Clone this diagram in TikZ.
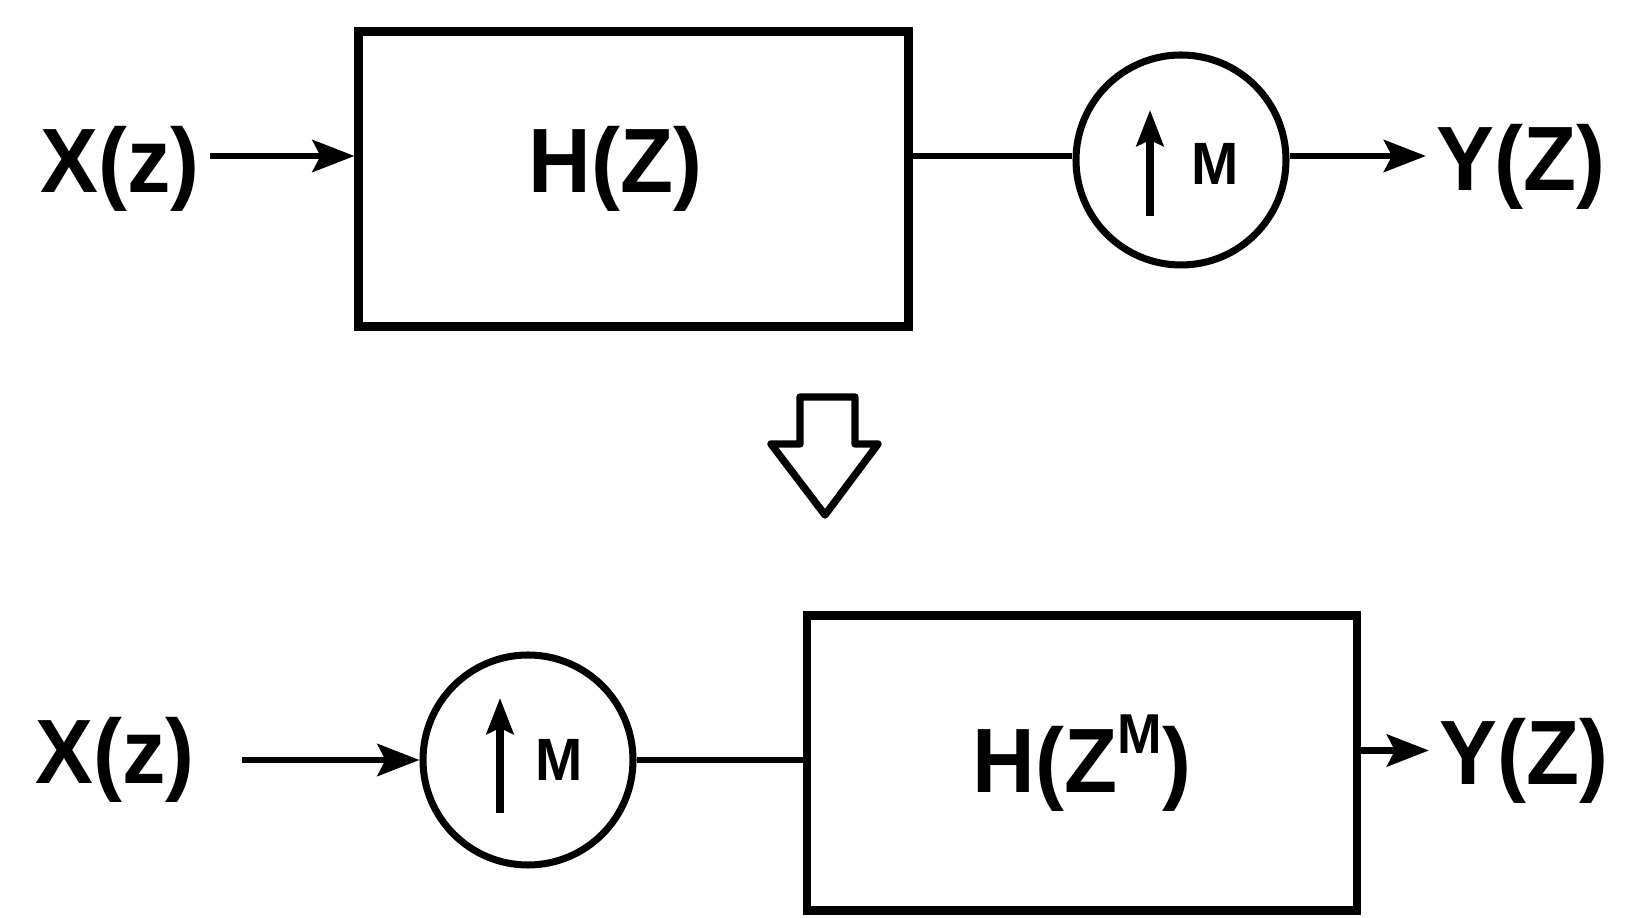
\documentclass[tikz,border=0pt]{standalone}
\usepackage{fontspec}
\setmainfont{Liberation Sans}[FakeStretch=0.95]
\usetikzlibrary{arrows.meta}

\begin{document}
\begin{tikzpicture}[font=\fontsize{26}{30}\selectfont\bfseries,
  blk/.style={draw, line width=2.3pt, minimum width=5.5cm, minimum height=2.95cm, inner sep=0pt},
  ups/.style={draw, circle, line width=2pt, minimum size=2.1cm, inner sep=0pt},
  lbl/.style={inner sep=1mm},
  wire/.style={line width=1.9pt},
  uparr/.style={line width=2pt, -{Stealth[length=3.6mm, width=2.7mm, inset=0.6mm]}},
  >={Stealth[length=4.2mm, width=3.2mm, inset=0.8mm]}]
\useasboundingbox (0,0) rectangle (16.39,9.18);
\coordinate (r1) at (0,7.62);
\coordinate (r2o) at (0,1.675);
% upper chain: filter first, upsampler after
\node[lbl] (xin1) at (1.2,7.49) {X(z)};
\node[blk] (filt1) at (6.335,7.39) {};
\node (lab1) at ([xshift=-1.8mm,yshift=1mm]filt1.center) {H(Z)};
\node[ups] (up1) at (11.81,7.58) {};
\node[lbl] (yout1) at (15.21,7.51) {Y(Z)};
\draw[uparr] ([xshift=-3.1mm,yshift=-5.6mm]up1.center) -- ([xshift=-3.1mm,yshift=5mm]up1.center);
\node[font=\fontsize{17}{20}\selectfont\bfseries] (m1) at ([xshift=3.4mm,yshift=-0.4mm]up1.center) {M};
\draw[wire, ->] (xin1.east |- r1) -- (filt1.west |- r1);
\draw[wire] (filt1.east |- r1) -- (up1.west |- r1);
\draw[wire, ->] (up1.east |- r1) -- (yout1.west |- r1);
% hollow arrow between the two forms
\draw[line width=2.1pt, line join=round]
  (8.00,5.21) -- (8.55,5.21) -- (8.55,4.74) -- (8.78,4.74) -- (8.25,4.03)
  -- (7.71,4.74) -- (8.00,4.74) -- cycle;
% lower chain: upsampler first, filter after
\node[lbl] (xin2) at (1.15,1.58) {X(z)};
\node[ups] (up2) at (5.28,1.58) {};
\node[blk] (filt2) at (10.82,1.55) {H(Z\raisebox{0.42em}{\fontsize{16}{16}\selectfont\bfseries M})};
\node[lbl] (yout2) at (15.24,1.57) {Y(Z)};
\draw[uparr] ([xshift=-2.8mm,yshift=-5.3mm]up2.center) -- ([xshift=-2.8mm,yshift=6.2mm]up2.center);
\node[font=\fontsize{17}{20}\selectfont\bfseries] (m2) at ([xshift=3.1mm]up2.center) {M};
\draw[wire, ->] ([xshift=3.7mm]xin2.east) -- (up2.west);
\draw[wire] (up2.east) -- (filt2.west |- up2.east);
\draw[wire, ->] (filt2.east |- r2o) -- (yout2.west |- r2o);
\end{tikzpicture}
\end{document}
